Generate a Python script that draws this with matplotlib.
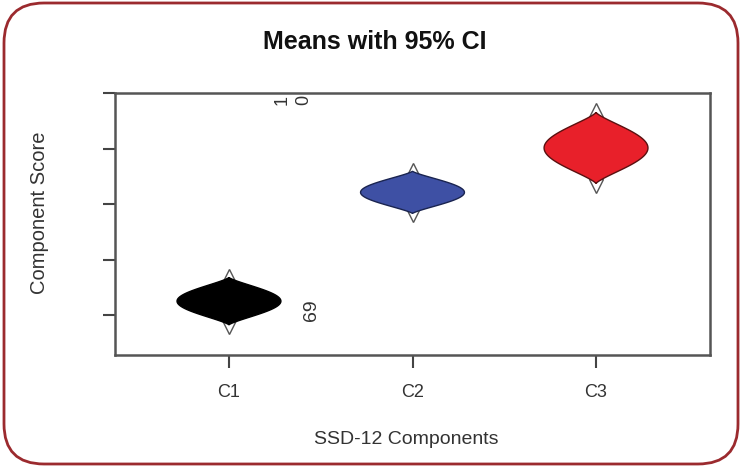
import numpy as np
import matplotlib
matplotlib.use("Agg")
import matplotlib.pyplot as plt
import matplotlib.patches as mpatches
from matplotlib.transforms import IdentityTransform

# ---- data ----
categories = ["C1", "C2", "C3"]
means = [0.25, 2.21, 3.01]
ci_half = [0.46, 0.41, 0.69]
fill_colors = ["#000000", "#3E50A4", "#E8202A"]
edge_colors = ["#000000", "#1A2450", "#5A1010"]
y_ticks = [0, 1, 2, 3, 4]
stray_labels = ["1", "0", "69"]
stray_x = [1.29, 1.41, 1.45]
stray_y = [3.87, 3.87, 0.09]
stray_sizes = [13, 13, 14]

plt.rcParams['font.family'] = ['Liberation Sans', 'DejaVu Sans']

W, H = 742, 467
fig = plt.figure(figsize=(W / 100, H / 100), dpi=100)
fig.patch.set_facecolor("white")

# rounded border (pixel coordinates)
border = mpatches.FancyBboxPatch((4, 3), 734, 461,
                                 boxstyle="round,pad=0,rounding_size=40",
                                 transform=IdentityTransform(),
                                 facecolor="none", edgecolor="#9B2A2E", linewidth=2.0)
fig.patches.append(border)

ax = fig.add_axes([115 / W, 1 - 355 / H, (710 - 115) / W, (355 - 93) / H])
ax.set_xlim(0.379, 3.621)
ax.set_ylim(-0.72, 4.0)

half_w = 0.283
for i, (m, h, fc, ec) in enumerate(zip(means, ci_half, fill_colors, edge_colors)):
    x0 = i + 1
    ax.plot([x0], [m + h], marker="^", ms=10, mfc="white", mec="#555555", mew=1.0, zorder=2)
    ax.plot([x0], [m - h], marker="v", ms=10, mfc="white", mec="#555555", mew=1.0, zorder=2)
    L = 0.93 * h
    t = np.linspace(-1, 1, 400)
    ww = half_w * ((1 + np.cos(np.pi * t)) / 2) ** 0.65
    yy = m + L * t
    xs = np.concatenate([x0 - ww, (x0 + ww)[::-1]])
    ys = np.concatenate([yy, yy[::-1]])
    ax.fill(xs, ys, facecolor=fc, edgecolor=ec, linewidth=1.0, zorder=3)

for lab, lx, ly, fs in zip(stray_labels, stray_x, stray_y, stray_sizes):
    ax.text(lx, ly, lab, rotation=90, ha="center", va="center", fontsize=fs, color="#333333")

ax.set_xticks([1, 2, 3])
ax.set_xticklabels(categories, fontsize=13, color="#333333")
ax.set_yticks(y_ticks)
ax.set_yticklabels([])
ax.tick_params(axis="both", direction="out", length=9, width=1.5, color="#444444")
ax.tick_params(axis="x", pad=12)
for s in ax.spines.values():
    s.set_color("#555555")
    s.set_linewidth(1.8)

fig.text(375 / W, 1 - 42 / H, "Means with 95% CI", ha="center", va="center",
         fontsize=18, fontweight="bold", color="#111111")
fig.text(40 / W, 1 - 213 / H, "Component Score", ha="center", va="center",
         rotation=90, fontsize=14.5, color="#333333")
fig.text(406 / W, 1 - 440 / H, "SSD-12 Components", ha="center", va="center",
         fontsize=14, color="#333333")

fig.savefig("out.png", dpi=100, facecolor="white")
